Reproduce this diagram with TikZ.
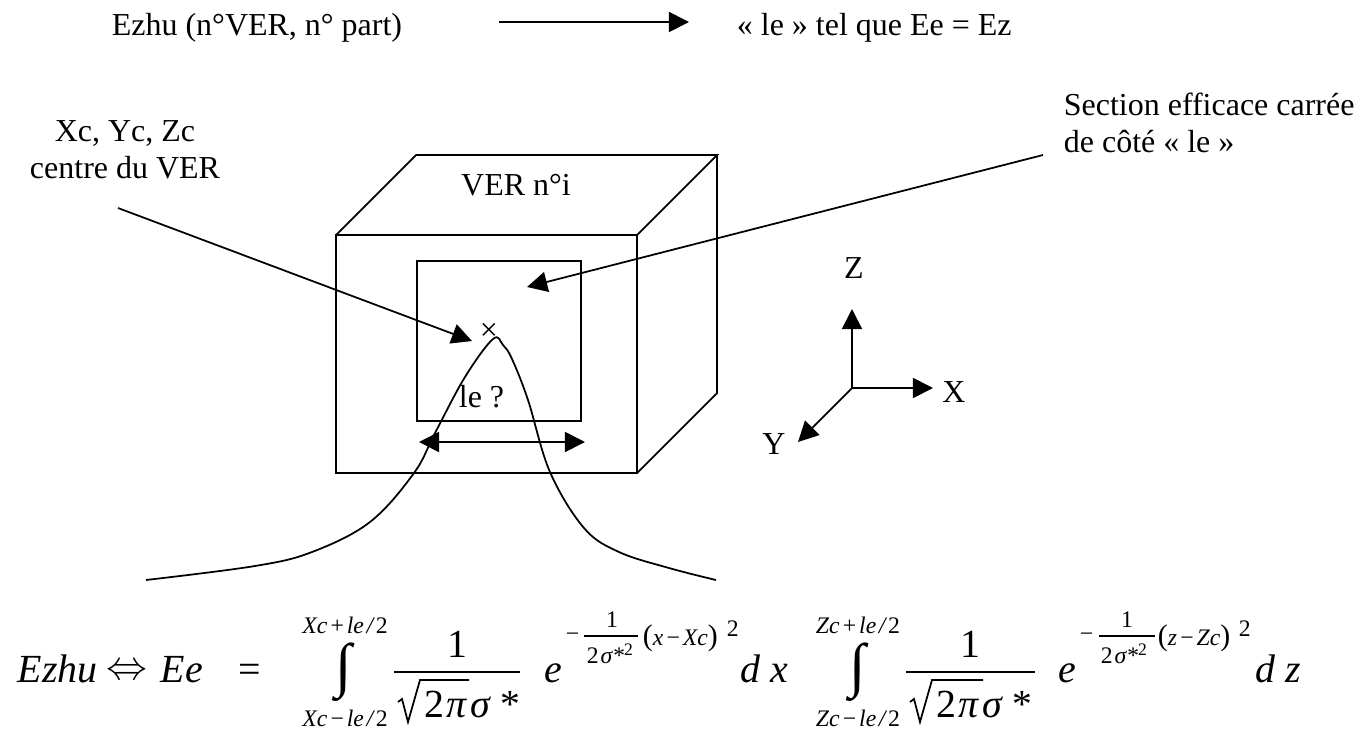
\documentclass[tikz,border=0pt]{standalone}
\usepackage{fontspec}
\setmainfont{Liberation Serif}
\usetikzlibrary{arrows.meta}
\newcommand{\txtsize}{\fontsize{18.2}{21}\selectfont}
\newcommand{\eqsize}{\fontsize{22.7}{24}\selectfont}
\newcommand{\limsize}{\fontsize{13.5}{15}\selectfont}
\newcommand{\parsize}{\fontsize{17}{18}\selectfont}
\begin{document}
\begin{tikzpicture}[
  x=0.02cm,y=-0.02cm,
  line width=1pt,
  tip/.style={-{Triangle[length=11.5pt,width=11.5pt]}},
  twotips/.style={{Triangle[length=11.5pt,width=11.5pt]}-{Triangle[length=11.5pt,width=11.5pt]}},
  lbl/.style={inner sep=0pt,font=\txtsize,align=center},
  eq/.style={anchor=base west,inner sep=0pt,font=\eqsize\itshape},
  equp/.style={anchor=base,inner sep=0pt,font=\eqsize},
  lim/.style={anchor=base,inner sep=0pt,font=\limsize\itshape},
  sym/.style={anchor=base west,inner sep=0pt,font=\limsize},
  intg/.style={inner sep=0pt,font=\fontsize{34}{36}\selectfont}
]
\useasboundingbox (0,0) rectangle (1370,731);

% top line
\node[lbl,anchor=base west] (ezhu) at (111,35) {Ezhu (n°VER, n° part)};
\node[lbl,anchor=base west] (letel) at (736,35) {« le » tel que Ee = Ez};
\coordinate (mapfrom) at (499,22);
\coordinate (mapto) at (689,22);
\draw[tip] (mapfrom) -- (mapto);

% cube
\coordinate (A) at (336,235);
\coordinate (B) at (637,235);
\coordinate (C) at (637,473);
\coordinate (D) at (336,473);
\coordinate (E) at (416,155);
\coordinate (F) at (717,155);
\coordinate (G) at (717,393);
\draw (A) -- (B) -- (C) -- (D) -- cycle;
\draw (A) -- (E) -- (F) -- (B);
\draw (F) -- (G) -- (C);
\draw (417,261) rectangle (581,421);
\node[lbl,anchor=base] (ver) at (516,195) {VER n°i};
\node[lbl] (cross) at (489,332) {×};
\node[lbl,anchor=base west] (leq) at (458,407) {le ?};

% labels and their arrows
\node[lbl] (centre) at (125,150) {Xc, Yc, Zc\\centre du VER};
\node[lbl,align=left,anchor=west] (section) at (1063,123) {Section efficace carrée\\de côté « le »};
\coordinate (centrefrom) at (118,208);
\coordinate (centreto) at (472,341);
\coordinate (sectionfrom) at (1043,155);
\coordinate (sectionto) at (527,287);
\draw[tip] (centrefrom) -- (centreto);
\draw[tip] (sectionfrom) -- (sectionto);
\coordinate (leL) at (419,442);
\coordinate (leR) at (585,442);
\draw[twotips] (leL) -- (leR);

% gaussian
\draw plot[smooth,tension=0.6] coordinates {(146,580) (255,566) (312,552) (370,522) (414,473) (435,433) (465,377) (493,339) (503,345) (512,359) (528,400) (550,472) (584,528) (619,552) (669,568) (716,580)};

% axes
\coordinate (O) at (852,388);
\coordinate (Zt) at (852,309);
\coordinate (Xt) at (933,388);
\coordinate (Yt) at (798,442);
\draw[tip] (O) -- (Zt);
\draw[tip] (O) -- (Xt);
\draw[tip] (O) -- (Yt);
\node[lbl,anchor=base] (zlab) at (854,278) {Z};
\node[lbl,anchor=base] (xlab) at (954,402) {X};
\node[lbl,anchor=base] (ylab) at (774,454) {Y};

% equation
\node[eq] (ezhueq) at (17,682) {Ezhu};
\node[scale=2.33,inner sep=0pt] (iff) at (127,672) {$\Leftrightarrow$};
\node[eq] (ee) at (160,682) {Ee};
\node[equp] (equal) at (250,682) {=};

% first integral
\node[intg] (int1) at (344,672) {∫};
\node[lim] (up1) at (345,633) {Xc\kern1pt+\kern1pt le\kern1.5pt/\kern1.5pt\upshape 2};
\node[lim] (lo1) at (345,726) {Xc\kern1pt−\kern1pt le\kern1.5pt/\kern1.5pt\upshape 2};
\node[equp] (one1) at (457,657) {1};
\draw (394,672) -- (520,672);
\draw (398,702) -- (402,699) -- (408,722) -- (420,680) -- (469,680);
\node[eq] (den1) at (424,717) {\upshape 2\itshape\kern1pt π\kern2pt σ\kern5pt *};
\node[eq] (e1) at (544,682) {e};
\node[sym] (minus1) at (565,641) {−};
\node[lim] (eone1) at (612,627) {\upshape 1};
\draw (584,636) -- (638,636);
\node[sym] (edn1) at (586,663) {2\kern1pt\itshape σ*\raisebox{4pt}{\upshape\fontsize{10}{10}\selectfont 2}};
\node[sym] (par1) at (642,645) {{\parsize(}\itshape x\kern1pt−\kern1pt Xc\upshape{\parsize)}};
\node[sym] (sq1) at (726,636) {2};
\node[eq] (dx) at (740,682) {d x};

% second integral
\node[intg] (int2) at (858,672) {∫};
\node[lim] (up2) at (858,633) {Zc\kern1pt+\kern1pt le\kern1.5pt/\kern1.5pt\upshape 2};
\node[lim] (lo2) at (858,726) {Zc\kern1pt−\kern1pt le\kern1.5pt/\kern1.5pt\upshape 2};
\node[equp] (one2) at (970,657) {1};
\draw (906,672) -- (1035,672);
\draw (910,702) -- (914,699) -- (920,722) -- (932,680) -- (983,680);
\node[eq] (den2) at (936,717) {\upshape 2\itshape\kern1pt π\kern2pt σ\kern5pt *};
\node[eq] (e2) at (1058,682) {e};
\node[sym] (minus2) at (1079,641) {−};
\node[lim] (eone2) at (1127,627) {\upshape 1};
\draw (1099,636) -- (1155,636);
\node[sym] (edn2) at (1100,663) {2\kern1pt\itshape σ*\raisebox{4pt}{\upshape\fontsize{10}{10}\selectfont 2}};
\node[sym] (par2) at (1157,645) {{\parsize(}\itshape z\kern1pt−\kern1pt Zc\upshape{\parsize)}};
\node[sym] (sq2) at (1238,636) {2};
\node[eq] (dz) at (1255,682) {d z};
\end{tikzpicture}
\end{document}
